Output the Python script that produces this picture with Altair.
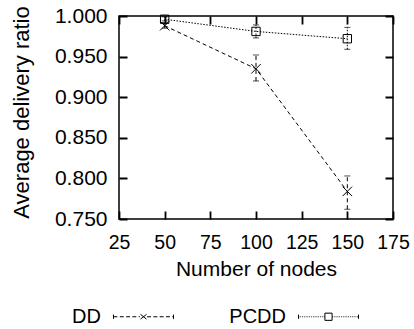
import altair as alt
import pandas as pd

nodes = [50, 100, 150]
series_names = ["DD", "PCDD"]
dd_mean = [0.988, 0.935, 0.784]
dd_low = [0.985, 0.920, 0.762]
dd_high = [0.992, 0.952, 0.803]
pcdd_mean = [0.996, 0.981, 0.972]
pcdd_low = [0.994, 0.973, 0.959]
pcdd_high = [0.999, 0.989, 0.986]

rows = []
for s, m, lo, hi in [("DD", dd_mean, dd_low, dd_high), ("PCDD", pcdd_mean, pcdd_low, pcdd_high)]:
    for n, a, b, c in zip(nodes, m, lo, hi):
        rows.append({"nodes": n, "series": s, "value": a, "low": b, "high": c})
df = pd.DataFrame(rows)

W, H = 274, 203
TICK = 8
FONT = "Liberation Sans"

cross_path = "M-1,-1L1,1M-1,1L1,-1"


def seg_path(a, b, dash, gap):
    parts = []
    x = a
    while x < b - 1e-9:
        e = min(x + dash, b)
        parts.append(f"M{x:.3f},0H{e:.3f}")
        x = e + gap
    return "".join(parts)


dd_legend = (
    "M-1,-0.07V0.07M1,-0.07V0.07"
    + seg_path(-1, -0.12, 0.13, 0.08)
    + seg_path(0.12, 1, 0.13, 0.08)
    + "M-0.1,-0.08L0.1,0.08M-0.1,0.08L0.1,-0.08"
)
pcdd_legend = (
    "M-1,-0.07V0.07M1,-0.07V0.07"
    + seg_path(-1, -0.12, 0.025, 0.035)
    + seg_path(0.12, 1, 0.025, 0.035)
    + "M-0.12,-0.12H0.12V0.12H-0.12Z"
)

xs = alt.Scale(domain=[25, 175], nice=False, zero=False)
ys = alt.Scale(domain=[0.75, 1.0], nice=False, zero=False)
dash_scale = alt.Scale(domain=series_names, range=[[4, 3], [1.5, 1.5]])

x_enc = alt.X(
    "nodes:Q",
    scale=xs,
    axis=alt.Axis(
        title="Number of nodes",
        values=[25, 50, 75, 100, 125, 150, 175],
        grid=True,
        gridDash=[TICK, H - 2 * TICK, TICK, 2000],
        gridColor="black",
        gridWidth=1.8,
        gridOpacity=1,
        ticks=False,
        domain=False,
        labelPadding=14,
        labelOverlap=False,
        labelBound=False,
        labelFlush=False,
        labelFontSize=19.5,
        titlePadding=7,
        titleFontSize=21,
    ),
)
y_enc = alt.Y(
    "value:Q",
    scale=ys,
    axis=alt.Axis(
        title="Average delivery ratio",
        values=[0.75, 0.8, 0.85, 0.9, 0.95, 1.0],
        format=".3f",
        grid=True,
        gridDash=[TICK, W - 2 * TICK, TICK, 2000],
        gridColor="black",
        gridWidth=1.8,
        gridOpacity=1,
        ticks=False,
        domain=False,
        labelPadding=12,
        labelOverlap=False,
        labelFontSize=21,
        titleFontSize=22,
        titleBaseline="alphabetic",
        titleX=-91,
        titleY=96,
    ),
)

base = alt.Chart(df)

lines = base.mark_line(color="black", strokeWidth=1).encode(
    x=x_enc,
    y=y_enc,
    detail="series:N",
    strokeDash=alt.StrokeDash("series:N", scale=dash_scale, legend=None),
)

errs = base.mark_rule(color="black", strokeWidth=1).encode(
    x="nodes:Q",
    y="low:Q",
    y2="high:Q",
    strokeDash=alt.StrokeDash("series:N", scale=dash_scale, legend=None),
)

caps_hi = base.mark_tick(color="black", thickness=1, size=6, orient="horizontal").encode(
    x="nodes:Q", y="high:Q"
)
caps_lo = base.mark_tick(color="black", thickness=1, size=6, orient="horizontal").encode(
    x="nodes:Q", y="low:Q"
)

markers = base.mark_point(color="black", filled=False, strokeWidth=1, opacity=1).encode(
    x="nodes:Q",
    y="value:Q",
    shape=alt.Shape(
        "series:N",
        scale=alt.Scale(domain=series_names, range=[cross_path, "square"]),
        legend=None,
    ),
    size=alt.Size("series:N", scale=alt.Scale(domain=series_names, range=[90, 70]), legend=None),
)

legend_layer = base.mark_point(color="black", filled=False, opacity=0).encode(
    x="nodes:Q",
    y="value:Q",
    shape=alt.Shape(
        "series:N",
        scale=alt.Scale(domain=series_names, range=[dd_legend, pcdd_legend]),
        legend=alt.Legend(
            title=None,
            orient="none",
            direction="horizontal",
            legendX=-6,
            legendY=270,
            symbolSize=3600,
            symbolStrokeWidth=1,
            symbolStrokeColor="black",
            symbolFillColor="transparent",
            symbolOpacity=1,
            labelFont=FONT,
            labelFontSize=20,
            labelColor="black",
            labelAlign="right",
            labelOffset={"expr": "-73"},
            columnPadding=53,
        ),
    ),
)

chart = (
    alt.layer(lines, errs, caps_hi, caps_lo, markers, legend_layer)
    .resolve_scale(shape="independent", strokeDash="shared")
    .properties(
        width=W,
        height=H,
        autosize=alt.AutoSizeParams(type="none"),
        padding={"left": 119, "top": 16, "right": 21, "bottom": 110},
    )
    .configure_view(stroke="black", strokeWidth=1.5)
    .configure_axis(
        labelFont=FONT,
        titleFont=FONT,
        labelFontSize=20,
        labelColor="black",
        titleColor="black",
        titleFontWeight="normal",
    )
)

chart.save("out.html", embed_options={"renderer": "svg", "actions": False})
